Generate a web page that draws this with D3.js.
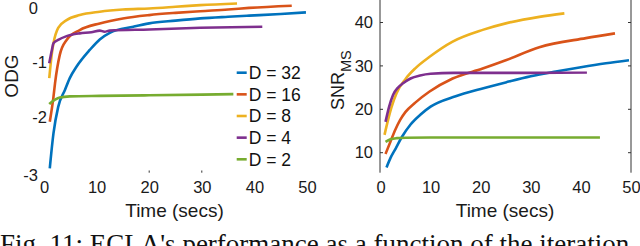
<!DOCTYPE html>
<html>
<head>
<meta charset="utf-8">
<script src="https://cdn.jsdelivr.net/npm/d3@7"></script>
<style>
  body { margin: 0; background: #fff; }
  svg { display: block; font-family: "Liberation Sans", Arial, sans-serif; }
</style>
</head>
<body>
<svg id="chart" width="640" height="246"></svg>
<script>
// series labels and colours (MATLAB default order)
const seriesNames = ["D = 32", "D = 16", "D = 8", "D = 4", "D = 2"];
const seriesColors = ["#0072BD", "#D95319", "#EDB120", "#7E2F8E", "#77AC30"];

const xTicks = [0, 10, 20, 30, 40, 50];
const odgTicks = [0, -1, -2, -3];
const snrTicks = [10, 20, 30, 40];

// ODG vs time, [secs, ODG]
const odg32 = [[1.1,-2.92],[1.8,-2.29],[2.7,-1.81],[4,-1.5],[4.9,-1.29],[6.2,-1.08],[8.7,-0.78],[10.6,-0.59],[12.5,-0.47],[17,-0.36],[20,-0.3],[25,-0.25],[29.7,-0.21],[35,-0.18],[39,-0.16],[45,-0.13],[49.8,-0.1]];
const odg16 = [[1.1,-2.08],[1.8,-1.63],[2.1,-1.38],[3,-0.87],[4.3,-0.6],[6.8,-0.42],[10.6,-0.3],[15,-0.21],[20,-0.15],[25,-0.11],[29.7,-0.08],[35,-0.05],[39,-0.02],[47.1,0.02]];
const odg8 = [[1.0,-1.29],[1.5,-0.84],[1.8,-0.66],[2.7,-0.38],[4.3,-0.24],[6.8,-0.15],[10.6,-0.09],[15,-0.05],[20,-0.03],[25,0],[29.7,0.03],[36.7,0.06]];
const odg4 = [[1.0,-1.02],[1.5,-0.78],[1.8,-0.66],[2.7,-0.6],[4.3,-0.53],[6.8,-0.48],[9,-0.46],[10.6,-0.43],[11.5,-0.45],[12.5,-0.43],[20,-0.41],[29.7,-0.38],[41.5,-0.36]];
const odg2 = [[1.0,-1.76],[2.1,-1.68],[3,-1.64],[4.9,-1.62],[10.6,-1.61],[20,-1.6],[36,-1.58]];

// SNR_MS vs time, [secs, dB]
const snr32 = [[1.2,6.6],[2,8.8],[3,10.9],[4.2,13.5],[6,16.5],[8,18.8],[10,20.6],[15,23.0],[20,24.7],[25,26.2],[30,27.6],[35,28.7],[40,29.7],[45,30.6],[49.6,31.3]];
const snr16 = [[1.0,9.7],[2,12.6],[3,15.4],[3.9,17.5],[5,19.4],[7,21.6],[9.8,24.1],[14.4,27.1],[20.4,29.4],[25,31.3],[31.7,34.3],[41,36.4],[46.8,37.5]];
const snr8 = [[0.8,14.1],[1.5,17.5],[2.2,20.5],[3.2,23.7],[5,27.0],[7,29.5],[9.8,32.1],[14.4,35.6],[20.4,38.3],[25,39.8],[31.7,41.3],[36.7,42.1]];
const snr4 = [[1.0,17.1],[1.7,20.5],[2.5,23.3],[3.5,25.0],[4.5,26.0],[6,27.1],[7.9,27.8],[10,28.2],[14.6,28.4],[20,28.4],[30,28.4],[41.2,28.5]];
const snr2 = [[1.0,12.5],[2,13.1],[3.2,13.35],[5,13.45],[10,13.5],[20,13.5],[30,13.5],[43.8,13.5]];

const odgSeries = [odg32, odg16, odg8, odg4, odg2];
const snrSeries = [snr32, snr16, snr8, snr4, snr2];

const svg = d3.select("#chart");
const tickFont = "16.5px";
const labelFont = "19px";

// scales
const xL = d3.scaleLinear().domain([0, 50]).range([44, 307]);
const yL = d3.scaleLinear().domain([-3, 0]).range([172.7, 6.8]);
const xR = d3.scaleLinear().domain([0, 50]).range([380.5, 631]);
const yR = d3.scaleLinear().domain([10, 40]).range([152.7, 22.5]);

// plain hyphen for negatives, like the original
const plain = d => String(d);

function drawLines(series, x, y) {
    const line = d3.line()
        .x(d => x(d[0]))
        .y(d => y(d[1]))
        .curve(d3.curveMonotoneX);
    svg.append("g")
        .selectAll("path")
        .data(series)
        .enter()
        .append("path")
        .attr("d", line)
        .attr("fill", "none")
        .attr("stroke", (d, i) => seriesColors[i])
        .attr("stroke-width", 2.6)
        .attr("stroke-linejoin", "round");
}

function styleAxis(g) {
    g.select(".domain").remove();
    g.selectAll("line").remove();
    g.selectAll("text").attr("fill", "#1a1a1a").style("font-size", tickFont);
}

// ---- left panel: ODG ----
svg.append("g")
    .attr("transform", "translate(0,172.7)")
    .call(d3.axisBottom(xL).tickValues(xTicks).tickSize(0).tickPadding(9).tickFormat(plain))
    .call(styleAxis);

const leftY = svg.append("g")
    .attr("transform", "translate(55,0)")
    .call(d3.axisLeft(yL).tickValues(odgTicks).tickSize(0).tickPadding(8).tickFormat(plain))
    .call(styleAxis);
// the 0 and -3 labels sit further left in the original
leftY.selectAll(".tick text")
    .filter(d => d === 0 || d === -3)
    .attr("x", -17)
    .attr("dy", d => d === -3 ? "0.45em" : "0.38em");

// small inward ticks still visible at the bottom
svg.append("g")
    .selectAll("line")
    .data([20, 30])
    .enter()
    .append("line")
    .attr("x1", d => xL(d))
    .attr("x2", d => xL(d))
    .attr("y1", 172.7)
    .attr("y2", 170.5)
    .attr("stroke", "#333")
    .attr("stroke-width", 1);

drawLines(odgSeries, xL, yL);

svg.append("text")
    .attr("transform", "translate(18,76) rotate(-90)")
    .attr("text-anchor", "middle")
    .attr("fill", "#1a1a1a")
    .style("font-size", labelFont)
    .text("ODG");

svg.append("text")
    .attr("x", 174.5)
    .attr("y", 217)
    .attr("text-anchor", "middle")
    .attr("fill", "#1a1a1a")
    .style("font-size", labelFont)
    .text("Time (secs)");

// legend
const legend = svg.append("g")
    .selectAll("g")
    .data(seriesNames)
    .enter()
    .append("g")
    .attr("transform", (d, i) => `translate(236.7,${72.7 + i * 21.65})`);

legend.append("line")
    .attr("x1", 0)
    .attr("x2", 10)
    .attr("stroke", (d, i) => seriesColors[i])
    .attr("stroke-width", 2.6);

legend.append("text")
    .attr("x", 12)
    .attr("dy", "0.36em")
    .attr("fill", "#111")
    .style("font-size", "17.5px")
    .text(d => d);

// ---- right panel: SNR_MS ----
svg.append("g")
    .attr("transform", "translate(0,172.7)")
    .call(d3.axisBottom(xR).tickValues(xTicks).tickSize(0).tickPadding(9).tickFormat(plain))
    .call(styleAxis);

svg.append("g")
    .attr("transform", "translate(380,0)")
    .call(d3.axisLeft(yR).tickValues(snrTicks).tickSize(0).tickPadding(7).tickFormat(plain))
    .call(styleAxis);

// box sides (left and right only) with inward ticks
[380, 631].forEach((xPos, k) => {
    svg.append("line")
        .attr("x1", xPos).attr("x2", xPos)
        .attr("y1", 0).attr("y2", 172.7)
        .attr("stroke", "#333")
        .attr("stroke-width", 1);
    svg.append("g")
        .selectAll("line")
        .data(snrTicks)
        .enter()
        .append("line")
        .attr("x1", xPos)
        .attr("x2", k === 0 ? xPos + 3 : xPos - 3)
        .attr("y1", d => yR(d))
        .attr("y2", d => yR(d))
        .attr("stroke", "#333")
        .attr("stroke-width", 1);
});

drawLines(snrSeries, xR, yR);

const snrLabel = svg.append("text")
    .attr("transform", "translate(343.5,110) rotate(-90)")
    .attr("fill", "#1a1a1a")
    .style("font-size", "18px");
snrLabel.append("tspan").text("SNR");
snrLabel.append("tspan")
    .attr("dy", 7)
    .style("font-size", "14.5px")
    .text("MS");

svg.append("text")
    .attr("x", 505)
    .attr("y", 217)
    .attr("text-anchor", "middle")
    .attr("fill", "#1a1a1a")
    .style("font-size", labelFont)
    .text("Time (secs)");

// caption, cut off by the bottom edge as in the source image
svg.append("text")
    .attr("x", 0)
    .attr("y", 253)
    .attr("fill", "#111")
    .style("font-family", "'Liberation Serif', 'Times New Roman', serif")
    .style("font-size", "27px")
    .text("Fig. 11: ECLA's performance as a function of the iteration");
</script>
</body>
</html>
